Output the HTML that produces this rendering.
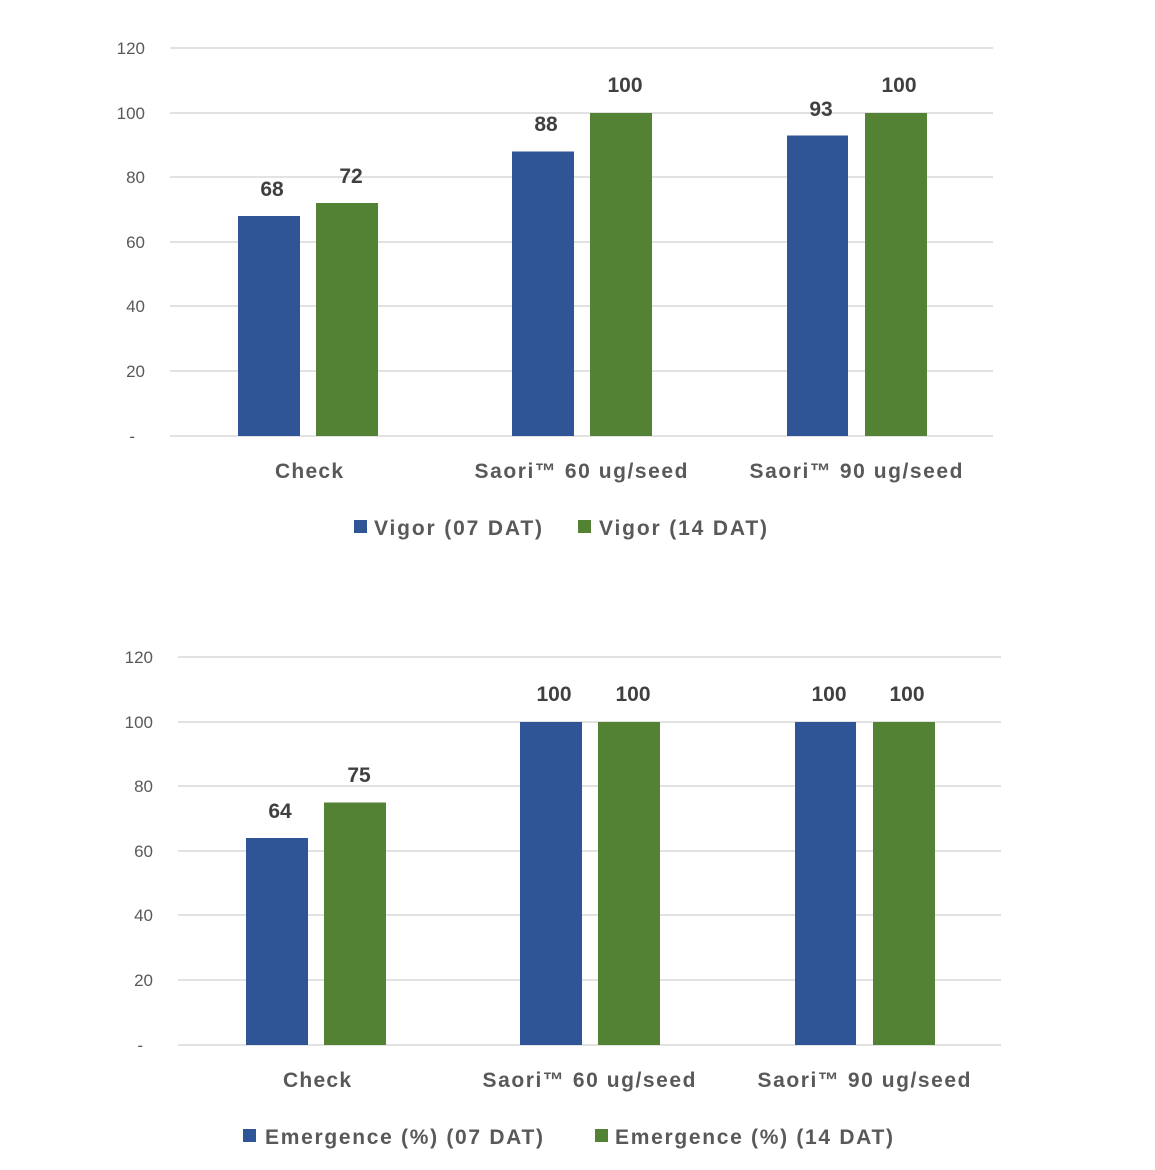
<!DOCTYPE html>
<html><head><meta charset="utf-8"><style>
html,body{margin:0;padding:0;background:#fff;}
svg{display:block;font-family:"Liberation Sans",sans-serif;}
.t{fill:#595959;font-size:17px;text-anchor:end;}
.c{fill:#595959;font-size:21px;font-weight:bold;text-anchor:middle;}
.d{fill:#404040;font-size:21px;font-weight:bold;text-anchor:middle;}
.l{fill:#595959;font-size:21px;font-weight:bold;}
.g{stroke:#d9d9d9;stroke-width:1.5;}
</style></head><body>
<svg width="1155" height="1170" viewBox="0 0 1155 1170">
<g>
<line class="g" x1="170" x2="993" y1="48" y2="48"/>
<line class="g" x1="170" x2="993" y1="113" y2="113"/>
<line class="g" x1="170" x2="993" y1="177" y2="177"/>
<line class="g" x1="170" x2="993" y1="242" y2="242"/>
<line class="g" x1="170" x2="993" y1="306" y2="306"/>
<line class="g" x1="170" x2="993" y1="371" y2="371"/>
<line class="g" x1="170" x2="993" y1="436" y2="436"/>
<text class="t" x="145" y="54">120</text>
<text class="t" x="145" y="119">100</text>
<text class="t" x="145" y="183">80</text>
<text class="t" x="145" y="248">60</text>
<text class="t" x="145" y="312">40</text>
<text class="t" x="145" y="377">20</text>
<text class="t" x="135" y="442">-</text>
<rect x="238" y="216" width="62" height="220" fill="#2F5597"/>
<rect x="316" y="203" width="62" height="233" fill="#548235"/>
<rect x="512" y="151.5" width="62" height="284.5" fill="#2F5597"/>
<rect x="590" y="113" width="62" height="323" fill="#548235"/>
<rect x="787" y="135.5" width="61" height="300.5" fill="#2F5597"/>
<rect x="865" y="113" width="62" height="323" fill="#548235"/>
<text class="d" x="272" y="196">68</text>
<text class="d" x="351" y="183">72</text>
<text class="d" x="546" y="131">88</text>
<text class="d" x="625" y="92">100</text>
<text class="d" x="821" y="116">93</text>
<text class="d" x="899" y="92">100</text>
<text class="c" x="309" y="478" textLength="68">Check</text>
<text class="c" x="581" y="478" textLength="213">Saori™ 60 ug/seed</text>
<text class="c" x="856" y="478" textLength="213">Saori™ 90 ug/seed</text>
<rect x="354" y="520" width="13" height="13" fill="#2F5597"/>
<text class="l" x="374" y="535" textLength="168">Vigor (07 DAT)</text>
<rect x="578" y="520" width="13" height="13" fill="#548235"/>
<text class="l" x="599" y="535" textLength="168">Vigor (14 DAT)</text>
</g>
<g transform="translate(8,609)">
<line class="g" x1="170" x2="993" y1="48" y2="48"/>
<line class="g" x1="170" x2="993" y1="113" y2="113"/>
<line class="g" x1="170" x2="993" y1="177" y2="177"/>
<line class="g" x1="170" x2="993" y1="242" y2="242"/>
<line class="g" x1="170" x2="993" y1="306" y2="306"/>
<line class="g" x1="170" x2="993" y1="371" y2="371"/>
<line class="g" x1="170" x2="993" y1="436" y2="436"/>
<text class="t" x="145" y="54">120</text>
<text class="t" x="145" y="119">100</text>
<text class="t" x="145" y="183">80</text>
<text class="t" x="145" y="248">60</text>
<text class="t" x="145" y="312">40</text>
<text class="t" x="145" y="377">20</text>
<text class="t" x="135" y="442">-</text>
<rect x="238" y="229" width="62" height="207" fill="#2F5597"/>
<rect x="316" y="193.5" width="62" height="242.5" fill="#548235"/>
<rect x="512" y="113" width="62" height="323" fill="#2F5597"/>
<rect x="590" y="113" width="62" height="323" fill="#548235"/>
<rect x="787" y="113" width="61" height="323" fill="#2F5597"/>
<rect x="865" y="113" width="62" height="323" fill="#548235"/>
<text class="d" x="272" y="209">64</text>
<text class="d" x="351" y="173">75</text>
<text class="d" x="546" y="92">100</text>
<text class="d" x="625" y="92">100</text>
<text class="d" x="821" y="92">100</text>
<text class="d" x="899" y="92">100</text>
<text class="c" x="309" y="478" textLength="68">Check</text>
<text class="c" x="581" y="478" textLength="213">Saori™ 60 ug/seed</text>
<text class="c" x="856" y="478" textLength="213">Saori™ 90 ug/seed</text>
<rect x="235" y="520" width="13" height="13" fill="#2F5597"/>
<text class="l" x="257" y="535" textLength="278">Emergence (%) (07 DAT)</text>
<rect x="587" y="520" width="13" height="13" fill="#548235"/>
<text class="l" x="607" y="535" textLength="278">Emergence (%) (14 DAT)</text>
</g>
</svg>
</body></html>
